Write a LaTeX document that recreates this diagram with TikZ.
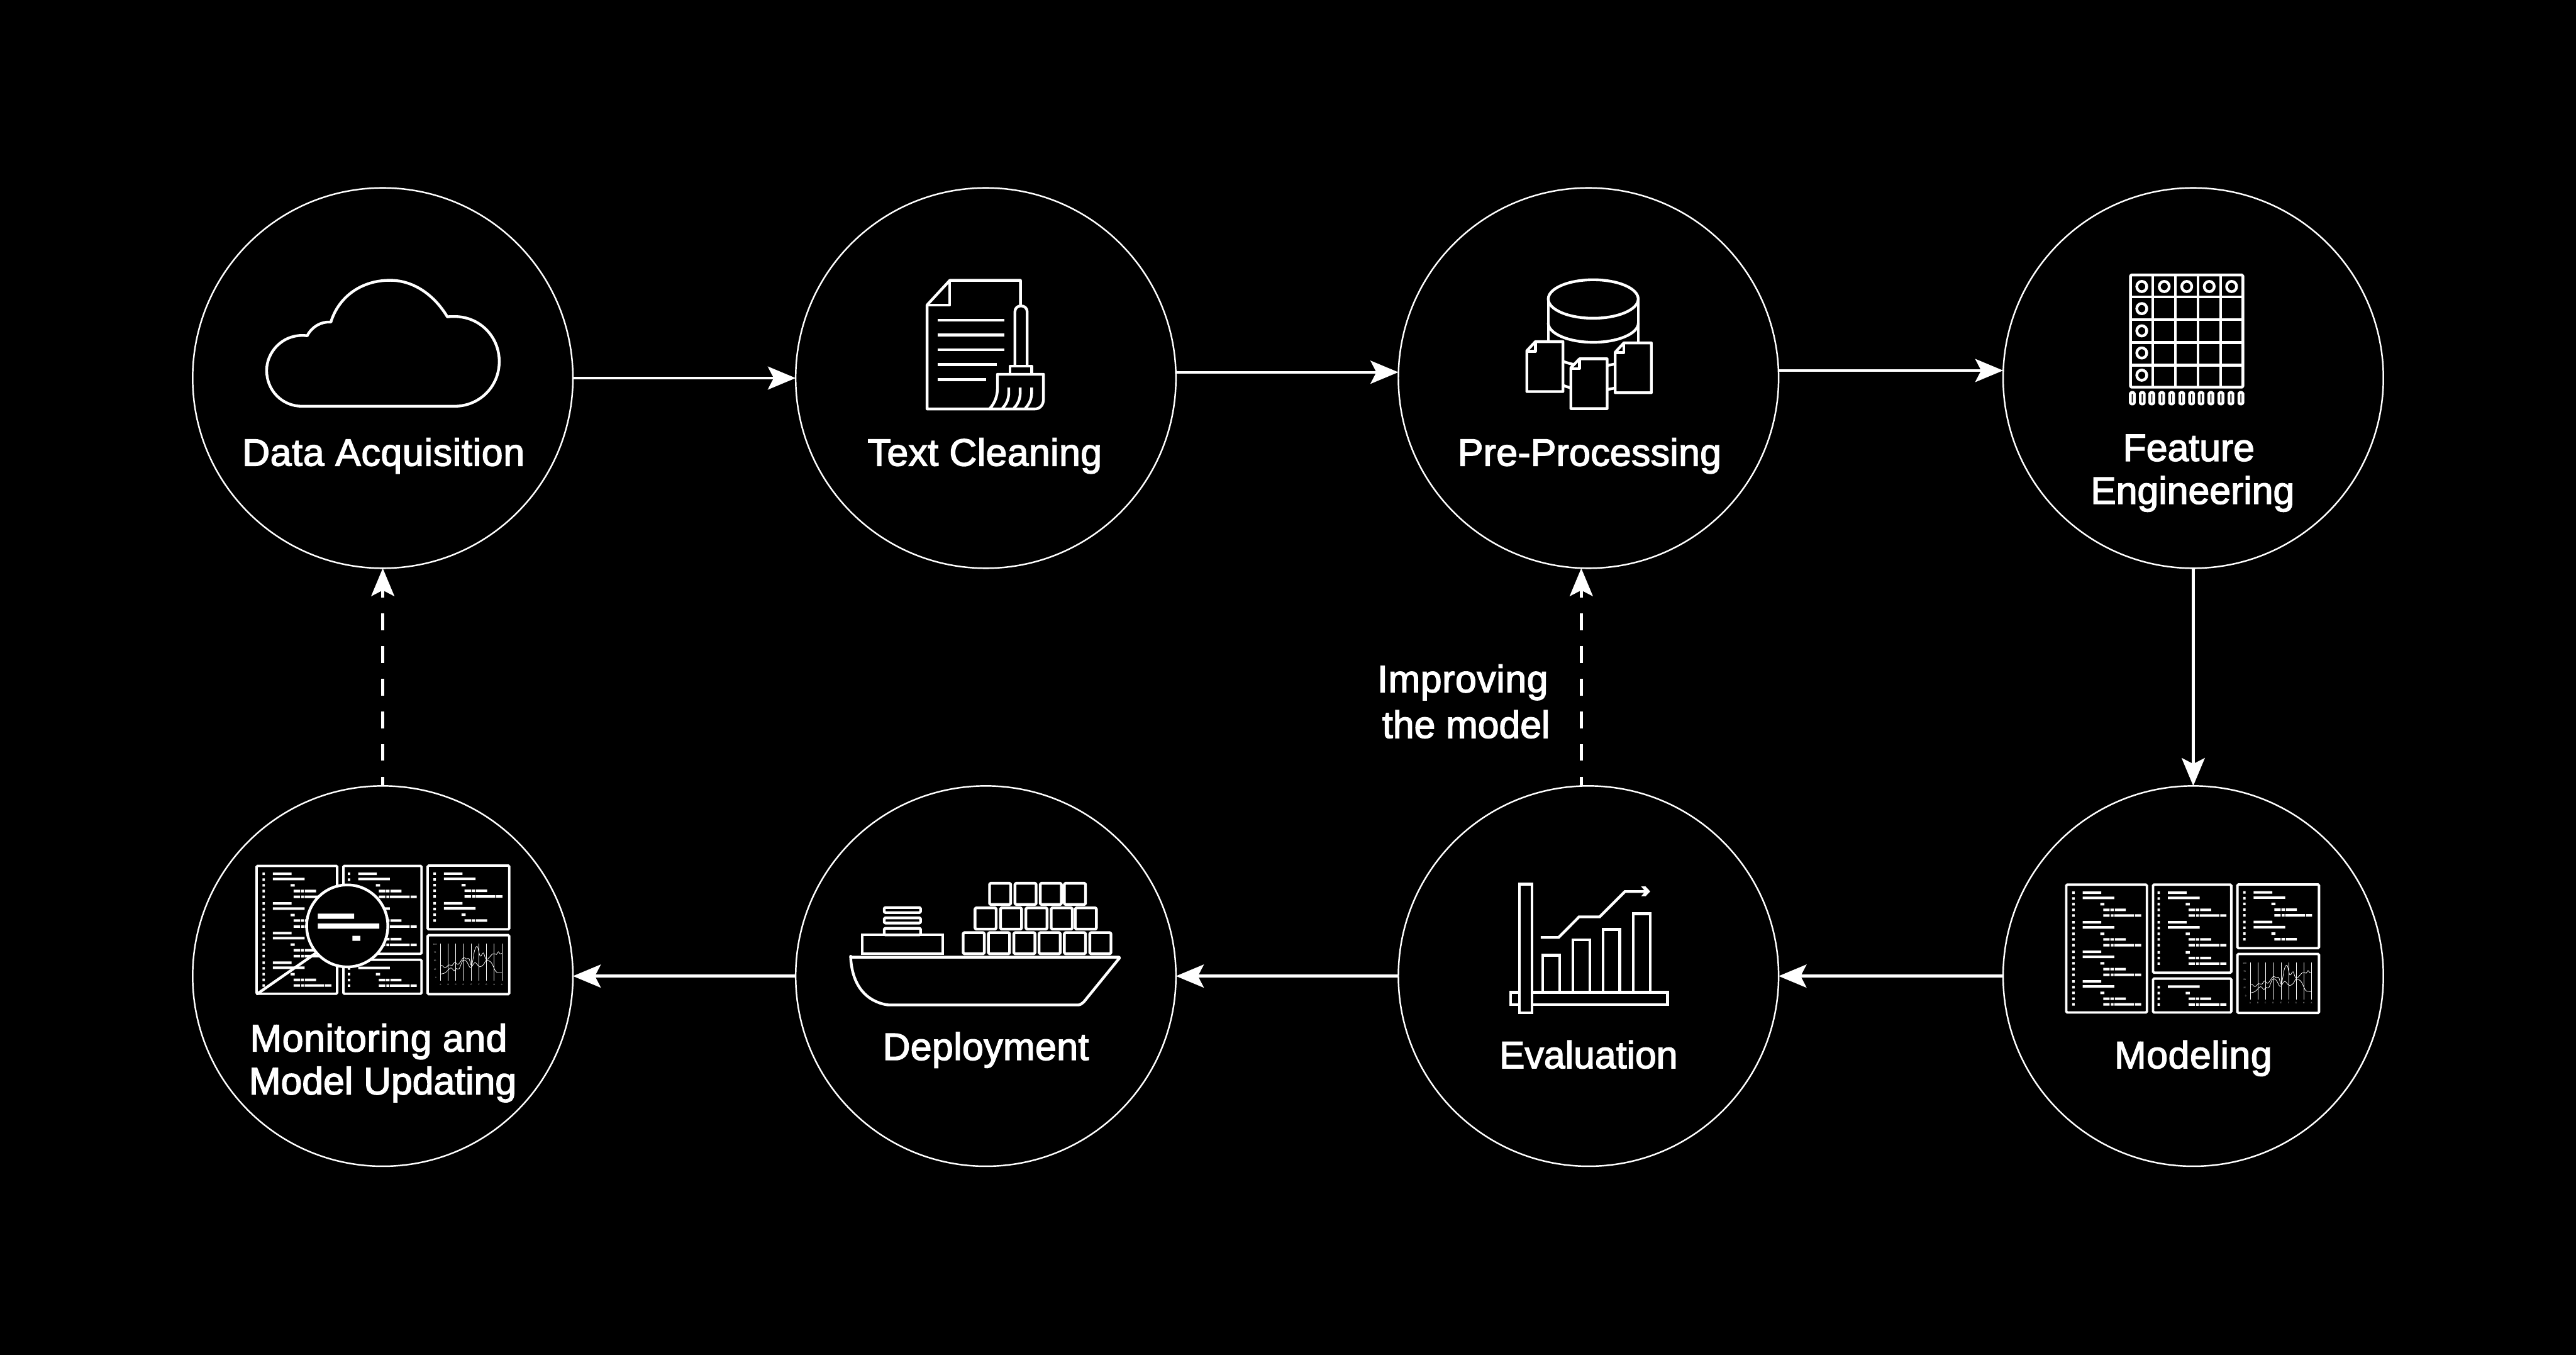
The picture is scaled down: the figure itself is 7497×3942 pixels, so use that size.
\documentclass[tikz,border=0pt]{standalone}
\usepackage{fontspec}
\usetikzlibrary{arrows.meta}
\newfontfamily\lblfont[FakeBold=2.5]{Liberation Sans}
\newfontfamily\tinyfont{Liberation Sans}
\newcommand{\rowA}[2]{\begin{scope}[shift={(#1,#2)}]\fill[white] (0,-11) rectangle (13,11) (56,-11) rectangle (156,11);\end{scope}}
\newcommand{\rowB}[2]{\begin{scope}[shift={(#1,#2)}]\fill[white] (0,-5) rectangle (13,17) (56,-11) rectangle (226,11);\end{scope}}
\newcommand{\rowC}[2]{\begin{scope}[shift={(#1,#2)}]\fill[white] (0,-11) rectangle (13,11) (151,-11) rectangle (173,11);\end{scope}}
\newcommand{\rowD}[2]{\begin{scope}[shift={(#1,#2)}]\fill[white] (0,-11) rectangle (13,11) (167,-11) rectangle (201,11) (205,-11) rectangle (224,11) (229,-11) rectangle (288,11);\end{scope}}
\newcommand{\rowE}[2]{\begin{scope}[shift={(#1,#2)}]\fill[white] (0,-11) rectangle (13,11) (167,-11) rectangle (201,11) (207,-11) rectangle (222,11) (226,-11) rectangle (332,11) (337,-11) rectangle (370,11);\end{scope}}
\newcommand{\dashboardicon}{%
    \draw[panel] (117,162) rectangle (550,1278);
    \draw[panel] (583,162) rectangle (1003,930);
    \draw[panel] (583,982) rectangle (1003,1278);
    \draw[panel] (1036,160) rectangle (1474,716);
    \draw[panel] (1036,767) rectangle (1474,1282);
    \foreach \y in {232,490,749,1007} {\rowA{149}{\y}}
    \foreach \y in {277,535,793,1051} {\rowB{149}{\y}}
    \foreach \y in {332,591,849,1107} {\rowC{149}{\y}}
    \foreach \y in {382,640,899,1157} {\rowD{149}{\y}}
    \foreach \y in {432,691,949,1207} {\rowE{149}{\y}}
    \foreach \y in {232,490} {\rowA{607}{\y}}
    \foreach \y in {277,535,1052} {\rowB{607}{\y}}
    \foreach \y in {332,591,752,1108} {\rowC{607}{\y}}
    \foreach \y in {382,640,802,1158} {\rowD{607}{\y}}
    \foreach \y in {432,691,852,1208} {\rowE{607}{\y}}
    \foreach \y in {230,488} {\rowA{1067}{\y}}
    \foreach \y in {275,533} {\rowB{1067}{\y}}
    \foreach \y in {330,589} {\rowC{1067}{\y}}
    \foreach \y in {380,639} {\rowD{1067}{\y}}
    \rowE{1067}{430}
    \foreach \x in {1105,1146,1187,1228,1270,1311,1351,1393,1434}
      \draw[white,line width=.012cm] (\x,843) -- (\x,1167);
    \draw[white,line width=.014cm] plot[smooth,tension=.6] coordinates {(1105,1030)(1115,1033)(1130,1052)(1150,1027)(1168,1030)(1182,1003)(1200,1022)(1228,964)(1243,975)(1258,972)(1272,1030)(1288,900)(1303,868)(1318,950)(1335,922)(1352,980)(1385,930)(1405,935)(1415,912)(1425,930)(1434,926)};
    \draw[white,line width=.014cm] plot[smooth,tension=.6] coordinates {(1105,1106)(1130,1095)(1160,1053)(1178,1078)(1190,1058)(1205,1060)(1225,987)(1245,997)(1265,1050)(1285,1012)(1295,1010)(1315,1043)(1335,1025)(1352,987)(1378,1008)(1400,1080)(1415,1094)(1434,1094)};
    \fill[white] (1352,987) ellipse [x radius=4,y radius=7];
    \node[tinylab] (ya) at (1075,849) {100};
    \node[tinylab] (yb) at (1075,921) {75};
    \node[tinylab] (yc) at (1075,993) {50};
    \node[tinylab] (yd) at (1075,1065) {25};
    \node[tinylab] (ye) at (1080,1137) {0};
    \node[tinylab] (xa) at (1105,1197) {A};
    \node[tinylab] (xb) at (1146,1197) {B};
    \node[tinylab] (xc) at (1187,1197) {C};
    \node[tinylab] (xd) at (1228,1197) {D};
    \node[tinylab] (xe) at (1270,1197) {E};
    \node[tinylab] (xf) at (1311,1197) {F};
    \node[tinylab] (xg) at (1351,1197) {G};
    \node[tinylab] (xh) at (1393,1197) {H};
    \node[tinylab] (xi) at (1434,1197) {A};
}
\tikzset{
  stepcircle/.style={circle,draw=white,line width=.045cm,minimum size=11.06cm,inner sep=0pt,outer sep=0pt},
  lbl/.style={text=white,inner sep=0pt,outer sep=0pt,anchor=base,align=center,font=\lblfont\fontsize{31.6}{35.5}\selectfont},
  flow/.style={draw=white,line width=.08cm,-{Stealth[length=.81cm,width=.67cm,inset=.17cm]}},
  back/.style={flow,dash pattern=on .48cm off .47cm,dash phase=.22cm},
  icon/.style={draw=white,line width=.08cm,line join=round},
  panel/.style={draw=white,line width=.07cm,rounded corners=.03cm},
  zoomat/.style n args={4}{shift={(#1,#2)},xscale=#3,yscale=#4},
  tinylab/.style={text=white!85!black,inner sep=0pt,font=\tinyfont\fontsize{1.7}{2}\selectfont},
}
\begin{document}
\begin{tikzpicture}[x=.01cm,y=-.01cm]
\fill[black] (0,0) rectangle (7497,3942);
\useasboundingbox (0,0) rectangle (7497,3942);

% stages
\node[stepcircle] (da) at (1114,1100) {};
\node[stepcircle] (tc) at (2869,1100) {};
\node[stepcircle] (pp) at (4623,1100) {};
\node[stepcircle] (fe) at (6383,1100) {};
\node[stepcircle] (md) at (6383,2840) {};
\node[stepcircle] (ev) at (4623,2840) {};
\node[stepcircle] (dp) at (2869,2840) {};
\node[stepcircle] (mn) at (1114,2840) {};

% connectors
\draw[flow] (da.east) -- (tc.west);
\draw[flow] ([yshift=.17cm]tc.east) -- ([yshift=.17cm]pp.west);
\draw[flow] ([yshift=.22cm]pp.east) -- ([yshift=.22cm]fe.west);
\draw[flow] (fe.south) -- (md.north);
\draw[flow] (md.west) -- (ev.east);
\draw[flow] (ev.west) -- (dp.east);
\draw[flow] (dp.west) -- (mn.east);
\draw[back] (mn.north) -- (da.south);
\draw[back] ([xshift=-.21cm]ev.north) -- ([xshift=-.21cm]pp.south);

% labels
\node[lbl] (lda) at (1116,1355) {\addfontfeatures{LetterSpace=1.2}Data Acquisition};
\node[lbl] (ltc) at (2866,1355) {\addfontfeatures{LetterSpace=.7}Text Cleaning};
\node[lbl] (lpp) at (4626,1355) {\addfontfeatures{LetterSpace=.5}Pre-Processing};
\node[lbl] (lfe) at (6381,1466) {Feature\hspace*{.22cm}\\Engineering};
\node[lbl] (lmd) at (6383,3108) {\addfontfeatures{LetterSpace=1}Modeling};
\node[lbl] (lev) at (4623,3108) {Evaluation};
\node[lbl] (ldp) at (2869,3084) {\addfontfeatures{LetterSpace=.7}Deployment};
\node[lbl] (lmn) at (1114,3184) {\addfontfeatures{LetterSpace=1}Monitoring and\hspace*{.24cm}\\Model Updating};
\node[lbl] (lim) at (4267,2147) {\addfontfeatures{LetterSpace=1}Improving\hspace*{.2cm}\\[.08cm]the model};

% cloud
\draw[icon] (879,1182) -- (1323,1182) .. controls (1395,1182) and (1453,1125) .. (1453,1052)
  .. controls (1453,978) and (1395,921) .. (1323,921) .. controls (1315,921) and (1308,921) .. (1302,922)
  .. controls (1265,860) and (1205,815.5) .. (1135,815.5) .. controls (1050,815.5) and (985,865) .. (963,937)
  .. controls (935,935) and (908,950) .. (894,977) .. controls (888,976) and (884,976) .. (879,976)
  .. controls (820,976) and (776,1025) .. (776,1078) .. controls (776,1135) and (820,1182) .. (879,1182) -- cycle;

% document and broom
\begin{scope}[zoomat={2550}{750}{.3827}{.3333}]
  \draw[icon] (1097,412) -- (1097,197) -- (560,197) -- (387,412) -- (387,1320) -- (860,1320);
  \draw[icon] (560,197) -- (560,412) -- (387,412);
  \foreach \y/\x in {544/975,674/975,803/975,933/918,1063/836} \draw[icon] (467,\y) -- (\x,\y);
  \draw[icon] (1055,940) -- (1055,470) .. controls (1055,440) and (1075,420) .. (1101,420) .. controls (1127,420) and (1148,440) .. (1148,470) -- (1148,940);
  \draw[icon] (1018,945) rectangle (1183,1017);
  \draw[icon] (860,1320) -- (1205,1320) .. controls (1245,1320) and (1272,1285) .. (1272,1235) -- (1272,1017) -- (922,1017) -- (922,1140) .. controls (922,1210) and (900,1270) .. (865,1315);
  \foreach \d in {0,87,174}
    \draw[icon] (1008+\d,1133) -- (1008+\d,1180) .. controls (1008+\d,1230) and (990+\d,1280) .. (960+\d,1313);
\end{scope}

% database and documents
\begin{scope}[zoomat={4300}{750}{.3827}{.3333}]
  \draw[icon] (538,360) -- (538,990) (1223,360) -- (1223,990);
  \draw[icon] (880,360) ellipse [x radius=342,y radius=168];
  \foreach \c in {570,780,990}
    \draw[icon] (538,\c) .. controls (538,\c+92) and (692,\c+168) .. (880,\c+168) .. controls (1068,\c+168) and (1223,\c+92) .. (1223,\c);
  \draw[icon,fill=black] (375,812) -- (440,732) -- (650,732) -- (650,1168) -- (375,1168) -- cycle;
  \draw[icon] (440,732) -- (440,817) -- (375,817);
  \draw[icon,fill=black] (1047,825) -- (1113,743) -- (1322,743) -- (1322,1178) -- (1047,1178) -- cycle;
  \draw[icon] (1113,743) -- (1113,827) -- (1047,827);
  \draw[icon,fill=black] (710,960) -- (776,882) -- (986,882) -- (986,1317) -- (710,1317) -- cycle;
  \draw[icon] (776,882) -- (776,967) -- (710,967);
\end{scope}

% feature table
\begin{scope}[zoomat={6100}{750}{.3827}{.3333}]
  \draw[icon,rounded corners=.03cm] (262,150) rectangle (1117,1130);
  \foreach \x in {430,603,777,949} \draw[icon] (\x,150) -- (\x,1130);
  \foreach \y in {342,540,740,938} \draw[icon] (262,\y) -- (1117,\y);
  \foreach \x in {348,519,690,861,1031} \draw[icon] (\x,251) ellipse [x radius=38,y radius=45];
  \foreach \y in {444,638,831,1025} \draw[icon] (348,\y) ellipse [x radius=38,y radius=45];
  \foreach \x in {276,352,424,500,575,652,727,799,874,950,1026,1102}
    \draw[icon,rounded corners=.03cm] (\x-15,1176) rectangle (\x+15,1276);
\end{scope}

% modeling dashboard
\begin{scope}[zoomat={5950}{2520}{.542}{.3333}]
  \dashboardicon
\end{scope}

% evaluation chart
\begin{scope}[zoomat={4350}{2520}{.3508}{.3333}]
  \draw[icon,line join=miter] (131,1101) rectangle (1434,1210);
  \foreach \l/\r/\t in {397/538/777,648/788/645,898/1038/552,1148/1289/415}
    \draw[icon,line join=miter] (\l,1101) -- (\l,\t) -- (\r,\t) -- (\r,1101);
  \draw[icon,line join=miter,fill=black] (205,157) rectangle (308,1282);
  \draw[icon,line join=miter] (382,623) -- (530,623) -- (700,443) -- (870,443) -- (1080,222) -- (1255,222);
  \fill[white] (1215,178) -- (1252,178) -- (1290,221) -- (1252,263) -- (1215,263) -- (1250,221) -- cycle;
\end{scope}

% ship
\begin{scope}[zoomat={2440}{2520}{.5485}{.3333}]
  \draw[icon,rounded corners=.03cm] (65,795) -- (1495,795) -- (1300,1190) -- (1280,1212) -- (262,1212) .. controls (150,1180) and (75,1050) .. (65,795) -- cycle;
  \draw[icon,line join=miter] (127,601) rectangle (553,765);
  \foreach \t/\b in {362/406,452/497,543/601}
    \draw[icon,rounded corners=.03cm] (243,\t) rectangle (436,\b);
  \foreach \x in {655,789,924,1058,1192,1327}
    \draw[icon,rounded corners=.03cm] (\x+7,581) rectangle (\x+119,765);
  \foreach \x in {718,853,988,1122,1250}
    \draw[icon,rounded corners=.03cm] (\x+7,365) rectangle (\x+119,550);
  \foreach \x in {795,930,1064,1192}
    \draw[icon,rounded corners=.03cm] (\x+7,150) rectangle (\x+119,335);
\end{scope}

% monitoring dashboard with magnifier
\begin{scope}[zoomat={683.2}{2465.3}{.542}{.3333}]
  \dashboardicon
\end{scope}
\begin{scope}[zoomat={700}{2480}{.542}{.3333}]
  \draw[icon,line cap=round] (90,1235) -- (400,885);
  \draw[icon,fill=black] (573,642) ellipse [x radius=218,y radius=358];
  \fill[white] (415,535) rectangle (610,580) (415,621) rectangle (745,666) (601,729) rectangle (643,773);
\end{scope}
\end{tikzpicture}
\end{document}
